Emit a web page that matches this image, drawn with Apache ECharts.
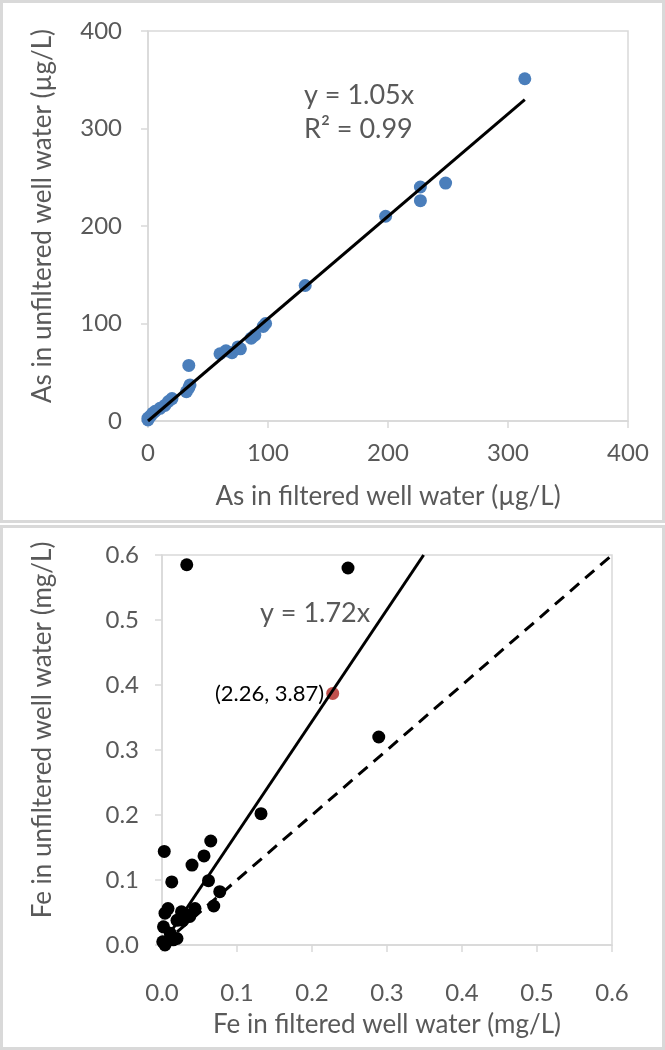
<!DOCTYPE html>
<html>
<head>
<meta charset="utf-8">
<script src="https://cdn.jsdelivr.net/npm/echarts@6/dist/echarts.min.js"></script>
<style>
  html, body { margin: 0; padding: 0; background: #fff; }
  #chart { width: 665px; height: 1050px; }
</style>
</head>
<body>
<div id="chart"></div>
<script>
// As panel (µg/L)
const asFiltered = [0, 0, 2, 4, 6, 10, 14, 17, 20, 32, 34, 35, 34, 60, 65, 70, 75, 77, 86, 89, 96, 98, 131, 198, 227, 227, 248, 314];
const asUnfiltered = [1, 3, 5, 8, 10, 13, 16, 20, 23, 30, 34, 37, 57, 69, 72, 70, 76, 74, 85, 88, 97, 100, 139, 210, 226, 240, 244, 351];
const asSlope = 1.05;
const asFitMaxX = 314;
const asTicks = [0, 100, 200, 300, 400];

// Fe panel (mg/L)
const feFiltered = [0.033, 0.248, 0.289, 0.132, 0.003, 0.065, 0.056, 0.040, 0.013, 0.062, 0.077, 0.069, 0.044, 0.033, 0.008, 0.004, 0.020, 0.002, 0.011, 0.020, 0.001, 0.004, 0.015, 0.028, 0.037, 0.026];
const feUnfiltered = [0.585, 0.580, 0.320, 0.202, 0.144, 0.160, 0.137, 0.123, 0.097, 0.099, 0.082, 0.060, 0.056, 0.046, 0.056, 0.049, 0.038, 0.028, 0.018, 0.010, 0.005, 0.000, 0.008, 0.038, 0.044, 0.051];
const feHighlight = [0.2276, 0.387];
const feHighlightLabel = "(2.26, 3.87)";
const feSlope = 1.72;
const feMax = 0.6;

const grey = "#595959";
const axisGrey = "#d9d9d9";
const font = "Lato";

const zip = (xs, ys) => xs.map((x, i) => [x, ys[i]]);

const axisCommon = {
  type: "value",
  nameLocation: "middle",
  nameTextStyle: { color: grey, fontSize: 26, fontFamily: font },
  axisLine: { show: true, lineStyle: { color: axisGrey, width: 1.5 } },
  axisTick: { show: true, length: 7, lineStyle: { color: axisGrey, width: 1.5 } },
  axisLabel: { color: grey, fontSize: 24, fontFamily: font },
  splitLine: { show: false },
};

const chart = echarts.init(document.getElementById("chart"));
chart.setOption({
  animation: false,
  graphic: [
    { type: "rect", shape: { x: 1.5, y: 1.5, width: 662, height: 520 }, style: { fill: "none", stroke: "#d9d9d9", lineWidth: 3 } },
    { type: "rect", shape: { x: 1.5, y: 526.5, width: 662, height: 522 }, style: { fill: "none", stroke: "#d9d9d9", lineWidth: 3 } },
    { type: "text", left: 304, top: 82, style: { text: "y = 1.05x", fill: grey, fontSize: 27, fontFamily: font } },
    { type: "text", left: 304, top: 116, style: { text: "R² = 0.99", fill: grey, fontSize: 27, fontFamily: font } },
    { type: "text", left: 260, top: 600, style: { text: "y = 1.72x", fill: grey, fontSize: 27, fontFamily: font } },
  ],
  grid: [
    { left: 148, top: 31, width: 480, height: 390, show: true, borderColor: axisGrey, borderWidth: 1.5 },
    { left: 162, top: 555, width: 450, height: 390, show: true, borderColor: axisGrey, borderWidth: 1.5 },
  ],
  xAxis: [
    Object.assign({}, axisCommon, {
      gridIndex: 0, min: asTicks[0], max: asTicks[asTicks.length - 1], interval: 100,
      name: "As in filtered well water (µg/L)", nameGap: 63,
      axisLabel: Object.assign({}, axisCommon.axisLabel, { margin: 20 }),
    }),
    Object.assign({}, axisCommon, {
      gridIndex: 1, min: 0, max: feMax, interval: 0.1,
      name: "Fe in filtered well water (mg/L)", nameGap: 67,
      axisLabel: Object.assign({}, axisCommon.axisLabel, { margin: 36, formatter: (v) => v.toFixed(1) }),
    }),
  ],
  yAxis: [
    Object.assign({}, axisCommon, {
      gridIndex: 0, min: asTicks[0], max: asTicks[asTicks.length - 1], interval: 100,
      name: "As in unfiltered well water (µg/L)", nameGap: 92,
      nameTextStyle: Object.assign({}, axisCommon.nameTextStyle, { padding: [0, 0, 0, 20] }),
      axisLabel: Object.assign({}, axisCommon.axisLabel, { margin: 26 }),
    }),
    Object.assign({}, axisCommon, {
      gridIndex: 1, min: 0, max: feMax, interval: 0.1,
      name: "Fe in unfiltered well water (mg/L)", nameGap: 106,
      nameTextStyle: Object.assign({}, axisCommon.nameTextStyle, { padding: [0, 0, 0, 40] }),
      axisLabel: Object.assign({}, axisCommon.axisLabel, { margin: 23, formatter: (v) => v.toFixed(1) }),
    }),
  ],
  series: [
    {
      type: "scatter", xAxisIndex: 0, yAxisIndex: 0, symbolSize: 13,
      itemStyle: { color: "#4a7ebb", opacity: 1 },
      data: zip(asFiltered, asUnfiltered),
    },
    {
      type: "line", xAxisIndex: 0, yAxisIndex: 0, symbol: "none",
      lineStyle: { color: "#000", width: 3 },
      data: [[0, 0], [asFitMaxX, asFitMaxX * asSlope]],
    },
    {
      type: "line", xAxisIndex: 1, yAxisIndex: 1, symbol: "none",
      lineStyle: { color: "#000", width: 3, type: [12, 8] },
      data: [[0, 0], [feMax, feMax]],
    },
    {
      type: "line", xAxisIndex: 1, yAxisIndex: 1, symbol: "none",
      lineStyle: { color: "#000", width: 3 },
      data: [[0, 0], [feMax / feSlope, feMax]],
    },
    {
      type: "scatter", xAxisIndex: 1, yAxisIndex: 1, symbolSize: 13,
      itemStyle: { color: "#000", opacity: 1 },
      data: zip(feFiltered, feUnfiltered),
    },
    {
      type: "scatter", xAxisIndex: 1, yAxisIndex: 1, symbolSize: 13,
      itemStyle: { color: "#c0504d", opacity: 1 },
      label: {
        show: true, position: "left", distance: 2, formatter: feHighlightLabel,
        color: "#000", fontSize: 22, fontFamily: font,
      },
      data: [feHighlight],
    },
  ],
});
</script>
</body>
</html>
